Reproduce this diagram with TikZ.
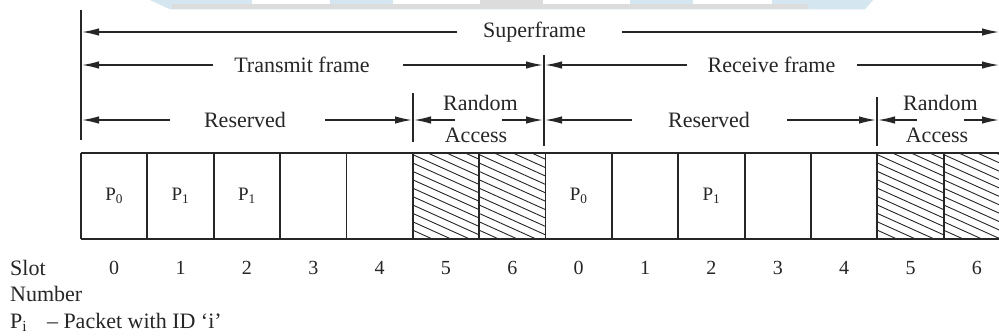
\documentclass[tikz,border=0pt]{standalone}
\usepackage{fontspec}
\setmainfont{Liberation Serif}
\usetikzlibrary{arrows.meta}
\definecolor{ink}{HTML}{262626}
\definecolor{wmblue}{HTML}{D4E6F0}
\definecolor{wmgrey}{HTML}{DCDCDC}
\begin{document}
\begin{tikzpicture}[x=1pt,y=-1pt,
  vline/.style={draw=ink, line width=1.6pt},
  slotline/.style={draw=ink, line width=1.8pt},
  hatch/.style={draw=ink, line width=0.9pt},
  dim/.style={draw=ink, line width=1.4pt, -{Latex[length=17pt,width=7.5pt]}},
  lbl/.style={text=ink, font=\fontsize{22}{24}\selectfont, inner sep=0pt},
  small/.style={text=ink, font=\fontsize{20}{22}\selectfont, inner sep=0pt},
  plbl/.style={text=ink, font=\fontsize{19}{21}\selectfont, inner sep=0pt}]
\useasboundingbox (0,0) rectangle (999,335);
\clip (0,0) rectangle (999,335);
\fill[white] (0,0) rectangle (999,335);
% faint watermark band at the top
\fill[wmblue] (150,0) -- (873,0) -- (865,9.3) -- (170,9.3) -- cycle;
\fill[wmgrey] (172,4) rectangle (808,9.3);
\fill[white] (252,0) rectangle (330,4);
\fill[white] (393,0) rectangle (480,4);
\fill[wmgrey] (480,0) rectangle (543,9.3);
\fill[white] (543,0) rectangle (630,4);
\fill[white] (693,0) rectangle (772,4);

% vertical marker lines
\coordinate (v0t) at (81,10);   \coordinate (v0b) at (81,140);
\coordinate (vmt) at (544,55);  \coordinate (vmb) at (544,146);
\coordinate (vat) at (413,93);  \coordinate (vab) at (413,142);
\coordinate (vbt) at (877,97);  \coordinate (vbb) at (877,146);
\draw[vline] (v0t) -- (v0b);
\draw[vline] (vmt) -- (vmb);
\draw[vline] (vat) -- (vab);
\draw[vline] (vbt) -- (vbb);

% Superframe
\node[lbl] (sf) at (534.5,32) {Superframe};
\coordinate (sfa) at (457,32); \coordinate (sfl) at (82,32);
\coordinate (sfb) at (622,32); \coordinate (sfr) at (999,32);
\draw[dim] (sfa) -- (sfl);
\draw[dim] (sfb) -- (sfr);

% Transmit frame / Receive frame
\node[lbl] (tf) at (302,65) {Transmit frame};
\coordinate (tfa) at (213,65); \coordinate (tfl) at (82,65);
\coordinate (tfb) at (403,65); \coordinate (tfr) at (543,65);
\draw[dim] (tfa) -- (tfl);
\draw[dim] (tfb) -- (tfr);
\node[lbl] (rf) at (771.5,65) {Receive frame};
\coordinate (rfa) at (687,65); \coordinate (rfl) at (545,65);
\coordinate (rfb) at (857,65); \coordinate (rfr) at (999,65);
\draw[dim] (rfa) -- (rfl);
\draw[dim] (rfb) -- (rfr);

% Reserved / Random Access (transmit)
\node[lbl] (r1) at (245,120) {Reserved};
\coordinate (r1a) at (170,120); \coordinate (r1l) at (82,120);
\coordinate (r1b) at (325,120); \coordinate (r1r) at (412,120);
\draw[dim] (r1a) -- (r1l);
\draw[dim] (r1b) -- (r1r);
\node[lbl] (ra1) at (480.5,103) {Random};
\node[lbl] (ac1) at (476,135) {Access};
\coordinate (ra1a) at (455,120); \coordinate (ra1l) at (414,120);
\coordinate (ra1b) at (502,120); \coordinate (ra1r) at (543,120);
\draw[dim] (ra1a) -- (ra1l);
\draw[dim] (ra1b) -- (ra1r);

% Reserved / Random Access (receive)
\node[lbl] (r2) at (709,120) {Reserved};
\coordinate (r2a) at (632,120); \coordinate (r2l) at (545,120);
\coordinate (r2b) at (787,120); \coordinate (r2r) at (876,120);
\draw[dim] (r2a) -- (r2l);
\draw[dim] (r2b) -- (r2r);
\node[lbl] (ra2) at (940.5,103) {Random};
\node[lbl] (ac2) at (937,135) {Access};
\coordinate (ra2a) at (917,120); \coordinate (ra2l) at (878,120);
\coordinate (ra2b) at (964,120); \coordinate (ra2r) at (999,120);
\draw[dim] (ra2a) -- (ra2l);
\draw[dim] (ra2b) -- (ra2r);

% hatching of the random access slots
\foreach \s in {5,6,12,13}{
  \pgfmathsetmacro{\xa}{81+66.36*\s}
  \pgfmathsetmacro{\xb}{81+66.36*(\s+1)}
  \begin{scope}
    \clip (\xa,153) rectangle (\xb,239);
    \foreach \k in {-1,...,15}{
      \draw[hatch] (\xa,{153+8.4*\k-32}) -- (\xb,{153+8.4*\k-32+0.45*66.36});
    }
  \end{scope}
}

% slot row
\draw[slotline] (81,153) -- (1012,153);
\draw[slotline] (81,239) -- (1012,239);
\foreach \s in {0,...,14}{
  \draw[slotline] ({81+66.36*\s},153) -- ({81+66.36*\s},239);
}
\foreach \s/\n in {0/0,1/1,2/2,3/3,4/4,5/5,6/6,7/0,8/1,9/2,10/3,11/4,12/5,13/6}{
  \node[small] (n\s) at ({81+66.36*(\s+0.5)},268) {\n};
}
\node[plbl] (p0) at ({81+66.36*0.5},196) {P\textsubscript{0}};
\node[plbl] (p1) at ({81+66.36*1.5},196) {P\textsubscript{1}};
\node[plbl] (p2) at ({81+66.36*2.5},196) {P\textsubscript{1}};
\node[plbl] (p7) at ({81+66.36*7.5},196) {P\textsubscript{0}};
\node[plbl] (p9) at ({81+66.36*9.5},196) {P\textsubscript{1}};

% left labels and legend
\node[lbl, anchor=west] (slot) at (10,268) {Slot};
\node[lbl, anchor=west] (num) at (10,294) {Number};
\node[lbl, anchor=west] (leg) at (10,322) {P\textsubscript{i}\hspace{0.9em}– Packet with ID `i'};
\end{tikzpicture}
\end{document}
